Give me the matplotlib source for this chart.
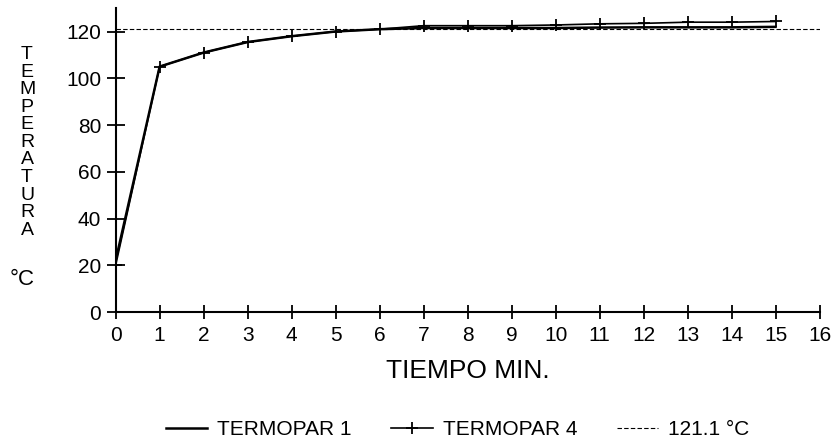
import matplotlib
matplotlib.use("Agg")
import matplotlib.pyplot as plt

plt.rcParams['font.family'] = ['Liberation Sans', 'DejaVu Sans']

# Data
tiempo = [0, 1, 2, 3, 4, 5, 6, 7, 8, 9, 10, 11, 12, 13, 14, 15]
termopar_1 = [22, 105, 111, 115.5, 118, 120, 121, 121.5, 121.5, 121.5, 121.5, 121.7, 121.8, 121.8, 121.8, 122]
termopar_4 = [20, 105, 111, 115.5, 118, 120, 121, 122.5, 122.5, 122.5, 122.8, 123.3, 123.5, 124, 124, 124.3]
referencia = 121.1
x_ticks = list(range(0, 17))
y_ticks = [0, 20, 40, 60, 80, 100, 120]

fig = plt.figure(figsize=(8.32, 4.41), dpi=100)
ax = fig.add_axes([0.139, 0.2925, 0.846, 0.689])

ax.plot(tiempo, termopar_1, color='black', lw=1.8, label='TERMOPAR 1')
ax.plot(tiempo, termopar_4, color='black', lw=1.2, marker='+', markersize=9,
        markeredgewidth=1.3, label='TERMOPAR 4')
ax.plot([0, 16], [referencia, referencia], color='black', lw=0.8,
        linestyle=(0, (4, 2)), label='121.1 °C')

ax.set_xlim(0, 16)
ax.set_ylim(0, 130)
ax.set_xticks(x_ticks)
ax.set_yticks(y_ticks)
ax.spines['top'].set_visible(False)
ax.spines['right'].set_visible(False)
ax.spines['left'].set_linewidth(1.5)
ax.spines['bottom'].set_linewidth(1.5)
ax.tick_params(axis='x', direction='inout', length=10, width=1.3, labelsize=15, pad=5)
ax.tick_params(axis='y', direction='inout', length=13, width=1.3, labelsize=15, pad=4)

ax.set_xlabel('TIEMPO MIN.', fontsize=19, labelpad=10)

# stacked axis title
fig.text(0.0325, 0.677, '\n'.join('TEMPERATURA'), fontsize=14, ha='center', va='center',
         linespacing=1.04)
fig.text(0.027, 0.367, '°C', fontsize=16, ha='center', va='center')

fig.legend(loc='center', bbox_to_anchor=(0.55, 0.025), ncol=3, frameon=False,
           fontsize=15, columnspacing=1.9, handlelength=2.0, handletextpad=0.47,
           borderpad=0)

fig.savefig('out.png', dpi=100)
